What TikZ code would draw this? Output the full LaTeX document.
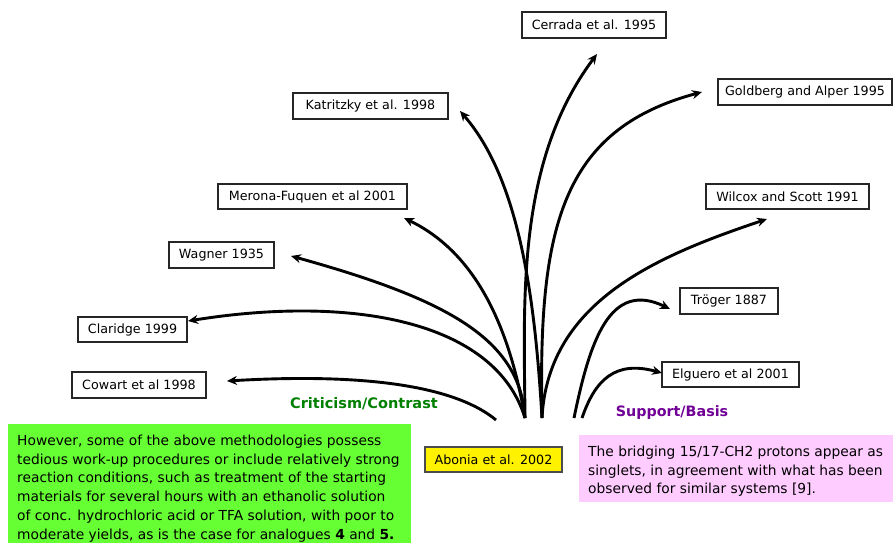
\documentclass[tikz,border=0pt]{standalone}
\usepackage{fontspec}
\setmainfont{DejaVu Sans}
\usetikzlibrary{arrows.meta}
\definecolor{critfill}{RGB}{102,255,51}
\definecolor{supfill}{RGB}{255,204,255}
\definecolor{critlabel}{RGB}{0,128,0}
\definecolor{suplabel}{RGB}{112,0,150}
\begin{document}
\begin{tikzpicture}[x=1pt,y=-1pt,
  refbox/.style={draw=black!85, line width=1.1pt, fill=white, inner sep=0pt,
    minimum height=26pt, font=\fontsize{12.7}{14}\selectfont},
  citearrow/.style={line width=2.9pt, -{Stealth[length=10pt,width=9pt]}},
  bigtext/.style={anchor=north west, inner sep=0pt, align=left,
    font=\fontsize{13.8}{18.9}\selectfont},
  panel/.style={anchor=north west, inner sep=0pt, draw=none}]
\path[use as bounding box] (0,0) rectangle (893,542);
\clip (0,0) rectangle (893,542);

% boxes
\node[refbox, minimum width=144pt] (cerrada) at (594,25) {Cerrada et al. 1995};
\node[refbox, minimum width=174pt] (goldberg) at (805,92) {Goldberg and Alper 1995};
\node[refbox, minimum width=163pt, minimum height=25pt] (wilcox) at (787.5,196.5) {Wilcox and Scott 1991};
\node[refbox, minimum width=98pt] (troger) at (729,301) {Tröger 1887};
\node[refbox, minimum width=137pt, minimum height=25pt] (elguero) at (730.5,374.5) {Elguero et al 2001};
\node[refbox, minimum width=155pt] (katritzky) at (370.5,106) {Katritzky et al. 1998};
\node[refbox, minimum width=189pt, minimum height=25pt] (merona) at (312.5,196.5) {Merona-Fuquen et al 2001};
\node[refbox, minimum width=105pt] (wagner) at (221.5,255) {Wagner 1935};
\node[refbox, minimum width=109pt, minimum height=25pt] (claridge) at (132.5,329.5) {Claridge 1999};
\node[refbox, minimum width=134pt] (cowart) at (139,385) {Cowart et al 1998};
\node[refbox, minimum width=137pt, minimum height=25pt, fill=yellow, draw=black!70] (abonia) at (493.5,459.5) {Abonia et al. 2002};

% panels
\node[panel, fill=critfill, minimum width=403pt, minimum height=130pt] (critpanel) at (8,424) {};
\node[bigtext] (crittext) at (17,434.5) {However, some of the above methodologies possess\\
tedious work-up procedures or include relatively strong\\
reaction conditions, such as treatment of the starting\\
materials for several hours with an ethanolic solution\\
of conc. hydrochloric acid or TFA solution, with poor to\\
moderate yields, as is the case for analogues \textbf{4} and \textbf{5.}};
\node[panel, fill=supfill, minimum width=330pt, minimum height=67pt] (suppanel) at (579,435) {};
\node[bigtext] (suptext) at (588,445.5) {The bridging 15/17-CH2 protons appear as\\
singlets, in agreement with what has been\\
observed for similar systems [9].};

% labels
\node[anchor=base, inner sep=0pt, text=critlabel, font=\fontsize{14.5}{16}\selectfont\bfseries] (critlbl) at (364,408) {Criticism/Contrast};
\node[anchor=base, inner sep=0pt, text=suplabel, font=\fontsize{14.3}{16}\selectfont\bfseries] (suplbl) at (672,416) {Support/Basis};

% hubs and tips
\coordinate (hubL) at (525,418);
\coordinate (hubM) at (542,418);
\coordinate (cowbase) at (496,420);
\coordinate (trbase) at (574,418);
\coordinate (elbase) at (582,418);
\coordinate (cowtip) at (227,381);
\coordinate (cltip) at (188,321);
\coordinate (watip) at (291,256);
\coordinate (metip) at (404,218);
\coordinate (katip) at (460,111);
\coordinate (cetip) at (597,54);
\coordinate (gotip) at (702,92);
\coordinate (witip) at (767,219);
\coordinate (trtip) at (670,309);
\coordinate (eltip) at (662,373);

% connectors
\draw[citearrow] (cowbase) .. controls (460,390) and (380,372) .. (cowtip);
\draw[citearrow] (hubL) .. controls (495,320) and (350,295) .. (cltip);
\draw[citearrow] (hubL) .. controls (520,340) and (450,300) .. (watip);
\draw[citearrow] (hubL) .. controls (505,300) and (460,245) .. (metip);
\draw[citearrow] (hubM) .. controls (535,300) and (520,180) .. (katip);
\draw[citearrow] (hubL) .. controls (524,300) and (516,162) .. (cetip);
\draw[citearrow] (hubM) .. controls (538,230) and (560,130) .. (gotip);
\draw[citearrow] (hubM) .. controls (548,300) and (660,255) .. (witip);
\draw[citearrow] (trbase) .. controls (590,340) and (610,280) .. (trtip);
\draw[citearrow] (elbase) .. controls (595,380) and (615,360) .. (eltip);
\end{tikzpicture}
\end{document}
